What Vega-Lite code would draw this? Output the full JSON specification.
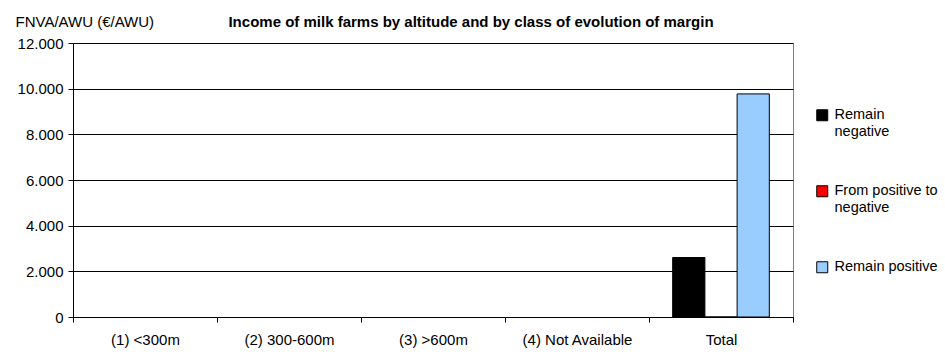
{
  "$schema": "https://vega.github.io/schema/vega-lite/v6.json",
  "width": 720,
  "height": 274,
  "autosize": "none",
  "padding": {"left": 73, "top": 43, "right": 152, "bottom": 39},
  "background": "white",
  "config": {
    "font": "Liberation Sans",
    "locale": {"number": {"decimal": ",", "thousands": ".", "grouping": [3], "currency": ["", " €"]}},
    "view": {"stroke": "#808080", "strokeWidth": 1}
  },
  "title": {
    "text": "Income of milk farms by altitude and by class of evolution of margin",
    "fontSize": 15,
    "fontWeight": "bold",
    "color": "black",
    "anchor": "middle",
    "frame": "group",
    "dx": 38,
    "offset": -16
  },
  "data": {
    "values": [
      {"altitude": "(1) <300m", "class": "Remain negative", "value": null},
      {"altitude": "(1) <300m", "class": "From positive to negative", "value": null},
      {"altitude": "(1) <300m", "class": "Remain positive", "value": null},
      {"altitude": "(2) 300-600m", "class": "Remain negative", "value": null},
      {"altitude": "(2) 300-600m", "class": "From positive to negative", "value": null},
      {"altitude": "(2) 300-600m", "class": "Remain positive", "value": null},
      {"altitude": "(3) >600m", "class": "Remain negative", "value": null},
      {"altitude": "(3) >600m", "class": "From positive to negative", "value": null},
      {"altitude": "(3) >600m", "class": "Remain positive", "value": null},
      {"altitude": "(4) Not Available", "class": "Remain negative", "value": null},
      {"altitude": "(4) Not Available", "class": "From positive to negative", "value": null},
      {"altitude": "(4) Not Available", "class": "Remain positive", "value": null},
      {"altitude": "Total", "class": "Remain negative", "value": 2605},
      {"altitude": "Total", "class": "From positive to negative", "value": 0},
      {"altitude": "Total", "class": "Remain positive", "value": 9770}
    ]
  },
  "mark": {"type": "bar", "stroke": "black", "strokeWidth": 1},
  "encoding": {
    "x": {
      "field": "altitude",
      "type": "nominal",
      "scale": {
        "domain": ["(1) <300m", "(2) 300-600m", "(3) >600m", "(4) Not Available", "Total"],
        "paddingInner": 0,
        "paddingOuter": 0
      },
      "axis": {
        "title": null,
        "labelAngle": 0,
        "labelFontSize": 15,
        "labelColor": "black",
        "labelPadding": 10,
        "tickBand": "extent",
        "tickColor": "black",
        "tickSize": 5,
        "domainColor": "black",
        "grid": false
      }
    },
    "xOffset": {
      "field": "class",
      "type": "nominal",
      "scale": {
        "domain": ["Remain negative", "From positive to negative", "Remain positive"],
        "paddingInner": 0,
        "paddingOuter": 0.735
      }
    },
    "y": {
      "field": "value",
      "type": "quantitative",
      "scale": {"domain": [0, 12000], "nice": false},
      "axis": {
        "title": "FNVA/AWU (€/AWU)",
        "titleAngle": 0,
        "titleAlign": "left",
        "titleBaseline": "middle",
        "titleX": -58,
        "titleY": -22,
        "titleFontSize": 15,
        "titleFontWeight": "normal",
        "titleColor": "black",
        "values": [0, 2000, 4000, 6000, 8000, 10000, 12000],
        "format": ",d",
        "labelFontSize": 15,
        "labelColor": "black",
        "labelPadding": 5,
        "tickColor": "black",
        "tickSize": 5,
        "domainColor": "black",
        "gridColor": "black",
        "gridOpacity": 1,
        "gridWidth": 1
      }
    },
    "color": {
      "field": "class",
      "type": "nominal",
      "scale": {
        "domain": ["Remain negative", "From positive to negative", "Remain positive"],
        "range": ["#000000", "#FF0000", "#99CCFF"]
      },
      "legend": {
        "title": null,
        "orient": "none",
        "legendX": 742,
        "legendY": 65,
        "symbolType": "square",
        "symbolSize": 121,
        "symbolStrokeColor": "black",
        "symbolStrokeWidth": 1,
        "labelFontSize": 14.5,
        "labelColor": "black",
        "labelOffset": 5,
        "rowPadding": 44,
        "labelBaseline": "middle",
        "labelExpr": "datum.label == 'Remain negative' ? ['Remain', 'negative'] : datum.label == 'From positive to negative' ? ['From positive to', 'negative'] : datum.label"
      }
    }
  }
}
